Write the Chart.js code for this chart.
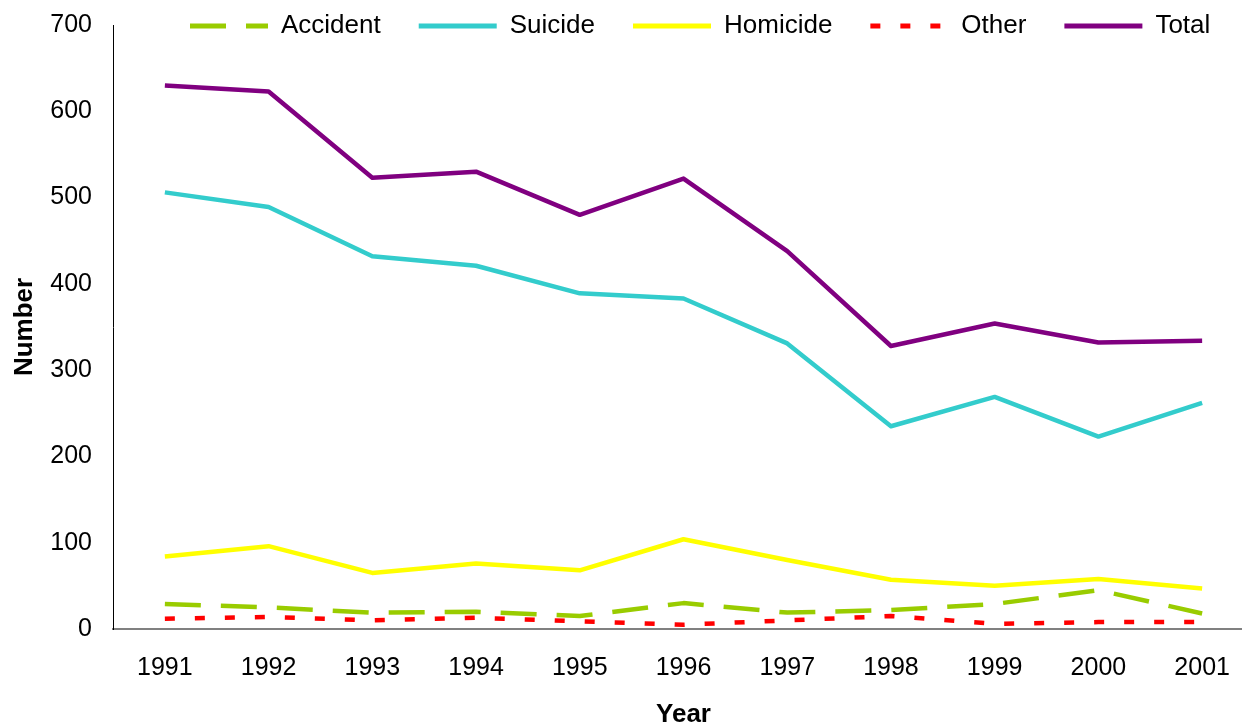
<!DOCTYPE html>
<html>
<head>
<meta charset="utf-8">
<title>Deaths by cause, 1991-2001</title>
<script src="https://cdn.jsdelivr.net/npm/chart.js@4.4.1/dist/chart.umd.min.js"></script>
<style>
  html, body { margin: 0; padding: 0; background: #fff; overflow: hidden; }
  #wrap { position: absolute; left: 0; top: 0; width: 1256px; height: 740px; }
</style>
</head>
<body>
<div id="wrap"><canvas id="chart" width="1256" height="740"></canvas></div>
<script>
// Data
var years    = ['1991', '1992', '1993', '1994', '1995', '1996', '1997', '1998', '1999', '2000', '2001'];
var accident = [29, 25, 19, 20, 15, 30, 19, 22, 29, 45, 18];
var suicide  = [506, 489, 432, 421, 389, 383, 331, 235, 269, 223, 262];
var homicide = [84, 96, 65, 76, 68, 104, 80, 57, 50, 58, 47];
var other    = [12, 14, 10, 13, 9, 5, 10, 15, 6, 8, 8];
var total    = [630, 623, 523, 530, 480, 522, 438, 328, 354, 332, 334];
var yTicks   = [0, 100, 200, 300, 400, 500, 600, 700];

var FONT = "'Liberation Sans', Arial, sans-serif";

// Put the legend over the top edge of the plot, like the original
var legendSpot = {
	id: 'legendSpot',
	afterLayout: function (chart) {
		var lg = chart.legend;
		lg.left   = 152;
		lg.right  = 1300;
		lg.top    = -25;
		lg.bottom = 80;
		lg.width  = lg.right - lg.left;
		lg.height = lg.bottom - lg.top;
	}
};

function series(label, data, color, dash) {
	return {
		label: label,
		data: data,
		borderColor: color,
		backgroundColor: color,
		borderWidth: 4.5,
		borderDash: dash,
		borderCapStyle: 'butt',
		borderJoinStyle: 'round',
		pointRadius: 0,
		tension: 0,
		fill: false
	};
}

// legend samples keep the dash of their line
function legendLabels(chart) {
	var items = Chart.defaults.plugins.legend.labels.generateLabels(chart);
	items.forEach(function (it) {
		var ds = chart.data.datasets[it.datasetIndex];
		it.lineDash    = ds.borderDash;
		it.lineCap     = 'butt';
		it.lineWidth   = 5;
		it.strokeStyle = ds.borderColor;
	});
	return items;
}

new Chart(
	document.getElementById('chart'),
	{
		type: 'line',
		data: {
			labels: years,
			datasets: [
				series('Accident', accident, '#99CC00', [36, 20]),
				series('Suicide', suicide, '#33CCCC', []),
				series('Homicide', homicide, '#FFFF00', []),
				series('Other', other, '#FF0000', [10, 20]),
				series('Total', total, '#800080', [])
			]
		},
		options: {
			responsive: false,
			animation: false,
			devicePixelRatio: 1,
			layout: { padding: { top: 0, right: 2, bottom: 0, left: 0 } },
			plugins: {
				tooltip: { enabled: false },
				legend: {
					position: 'top',
					align: 'start',
					maxHeight: 25,
					labels: {
						usePointStyle: true,
						pointStyle: 'line',
						pointStyleWidth: 78,
						padding: 38,
						color: '#000',
						font: { family: FONT, size: 26 },
						generateLabels: legendLabels
					}
				}
			},
			scales: {
				x: {
					offset: true,
					afterFit: function (s) { s.height = 111; },
					grid: { display: false, drawTicks: false },
					border: { display: true, color: '#808080', width: 2 },
					ticks: { color: '#000', padding: 24, font: { family: FONT, size: 25 } },
					title: {
						display: true,
						text: 'Year',
						color: '#000',
						padding: { top: 0, bottom: 10 },
						font: { family: FONT, size: 26, weight: 'bold' }
					}
				},
				y: {
					min: 0,
					max: 700,
					afterFit: function (s) {
						s.width = 113;
						s.paddingTop = 0;
						s.paddingBottom = 0;
					},
					afterBuildTicks: function (s) {
						s.ticks = yTicks.map(function (v) { return { value: v }; });
					},
					grid: { display: false, drawTicks: false },
					border: { display: true, color: '#000', width: 1 },
					ticks: { color: '#000', padding: 21, font: { family: FONT, size: 25 } },
					title: {
						display: true,
						text: 'Number',
						color: '#000',
						padding: { top: 9, bottom: 0 },
						font: { family: FONT, size: 26, weight: 'bold' }
					}
				}
			}
		},
		plugins: [legendSpot]
	}
);
</script>
</body>
</html>
